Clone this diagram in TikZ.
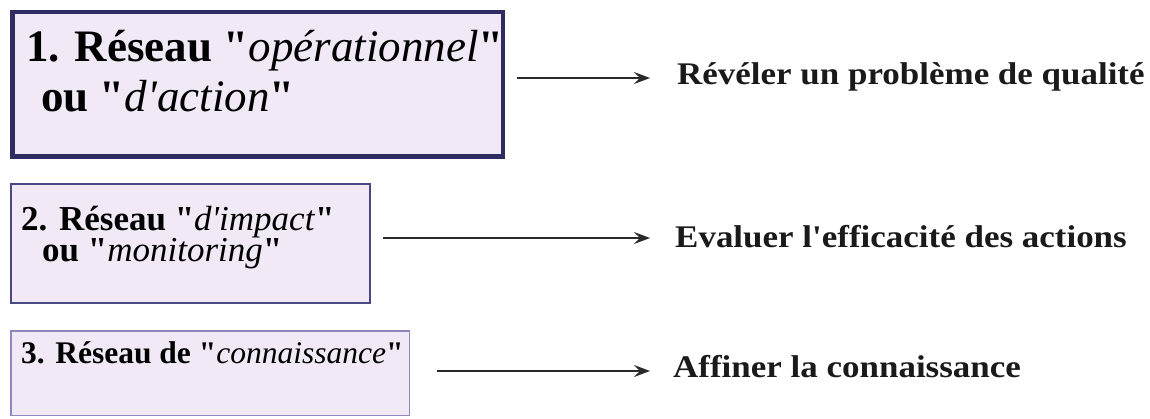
\documentclass[tikz,border=0pt]{standalone}
\usepackage{fontspec}
\setmainfont[Ligatures=TeXOff]{Liberation Serif}
\newfontfamily\widefont[Ligatures=TeXOff,FakeStretch=1.11]{Liberation Serif}
\usetikzlibrary{arrows.meta,calc}
\definecolor{boxfill}{HTML}{F1EAF6}
\definecolor{borderA}{HTML}{2E2C63}
\definecolor{borderB}{HTML}{4A4882}
\definecolor{borderC}{HTML}{8F88BC}
\definecolor{arrowgray}{HTML}{2A2A2A}
\definecolor{txt}{HTML}{1A1A1A}
\begin{document}
\begin{tikzpicture}[x=1pt,y=1pt,
  boxbase/.style={draw, fill=boxfill, inner sep=0pt, anchor=center},
  boxone/.style={boxbase, draw=borderA, line width=4.5pt, minimum width=490.5pt, minimum height=144.5pt},
  boxtwo/.style={boxbase, draw=borderB, line width=2pt, minimum width=359pt, minimum height=119pt},
  boxthree/.style={boxbase, draw=borderC, line width=1.5pt, minimum width=398.5pt, minimum height=84.5pt},
  lbl/.style={anchor=base west, inner sep=0pt, align=left, text=black},
  res/.style={anchor=base west, inner sep=0pt, text=txt, font=\widefont\bfseries\fontsize{31.5}{34}\selectfont},
  arr/.style={line width=1.4pt, draw=arrowgray, -{Stealth[length=16pt,width=12pt,inset=6pt]}}]
\useasboundingbox (0,0) rectangle (1150,-419);
% boxes
\node[boxone] (b1) at (257.5,-84.5) {};
\node[boxtwo] (b2) at (190.5,-243.5) {};
\node[boxthree] (b3) at (210,-373) {};
% box labels (base = last line's baseline)
\node[lbl, font=\fontsize{45}{50}\selectfont] (b1t) at (26,-112)
  {{\bfseries 1. Réseau "}\textit{opérationnel}{\bfseries "}\\
   \hspace*{15pt}{\bfseries ou "}\textit{d'action}{\bfseries "}};
\node[lbl, font=\fontsize{35}{30}\selectfont] (b2t) at (21,-262)
  {{\bfseries 2. Réseau "}\textit{d'impact}{\bfseries "}\\
   \hspace*{21pt}{\bfseries ou "}\textit{monitoring}{\bfseries "}};
\node[lbl, font=\fontsize{31.5}{36}\selectfont] (b3t) at (21,-363)
  {{\bfseries 3. Réseau de "}\textit{connaissance}{\bfseries "}};
% right texts
\node[res] (t1) at (677,-85) {Révéler un problème de qualité};
\node[res] (t2) at (675,-248) {Evaluer l'efficacité des actions};
\node[res] (t3) at (673,-377) {Affiner la connaissance};
% arrows
\coordinate (e1) at ($(t1.base west)+(-27,7)$);
\coordinate (e2) at ($(t2.base west)+(-25,10)$);
\coordinate (e3) at ($(t3.base west)+(-23,6)$);
\draw[arr] ($(b1.east |- e1)+(12,0)$) -- (e1);
\draw[arr] ($(b2.east |- e2)+(12,0)$) -- (e2);
\draw[arr] ($(b3.east |- e3)+(27,0)$) -- (e3);
\end{tikzpicture}
\end{document}
